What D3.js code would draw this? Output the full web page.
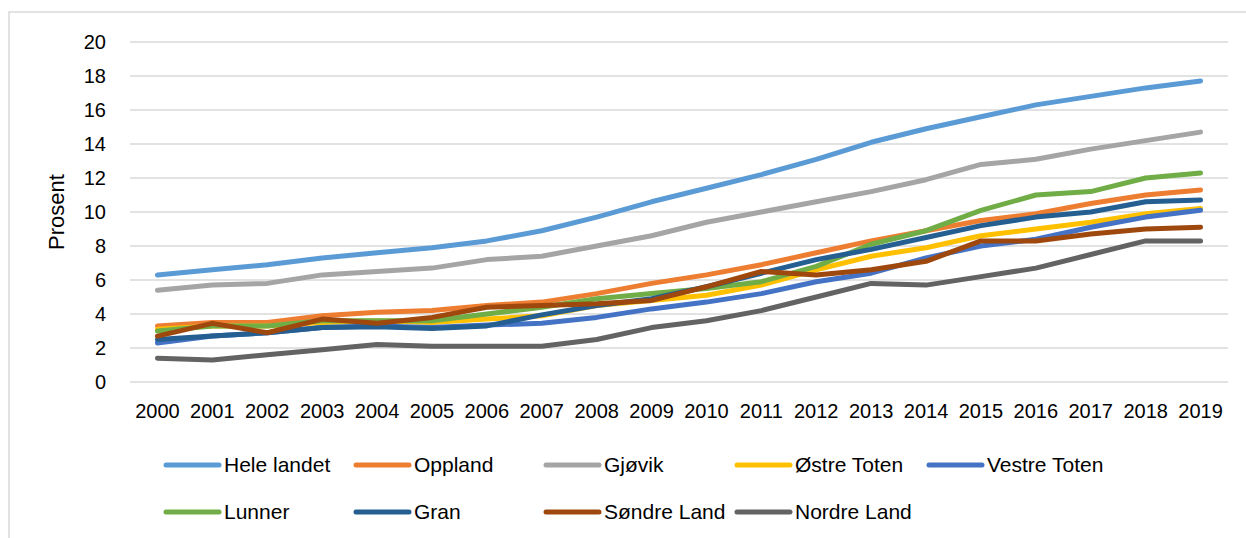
<!DOCTYPE html>
<html>
<head>
<meta charset="utf-8">
<script src="https://d3js.org/d3.v7.min.js"></script>
<style>
    body { margin: 0; background: #fff; }
    text { font-family: "Liberation Sans", Arial, sans-serif; fill: #000; }
</style>
</head>
<body>
<script>
(function(){

    //pseudo-global variables
    var years = ["2000", "2001", "2002", "2003", "2004", "2005", "2006", "2007", "2008", "2009",
                 "2010", "2011", "2012", "2013", "2014", "2015", "2016", "2017", "2018", "2019"];
    var seriesNames = ["Hele landet", "Oppland", "Gjøvik", "Østre Toten", "Vestre Toten",
                       "Lunner", "Gran", "Søndre Land", "Nordre Land"];
    var heleLandet  = [6.3, 6.6, 6.9, 7.3, 7.6, 7.9, 8.3, 8.9, 9.7, 10.6, 11.4, 12.2, 13.1, 14.1, 14.9, 15.6, 16.3, 16.8, 17.3, 17.7];
    var oppland     = [3.3, 3.5, 3.5, 3.9, 4.1, 4.2, 4.5, 4.7, 5.2, 5.8, 6.3, 6.9, 7.6, 8.3, 8.9, 9.5, 9.9, 10.5, 11.0, 11.3];
    var gjovik      = [5.4, 5.7, 5.8, 6.3, 6.5, 6.7, 7.2, 7.4, 8.0, 8.6, 9.4, 10.0, 10.6, 11.2, 11.9, 12.8, 13.1, 13.7, 14.2, 14.7];
    var ostreToten  = [3.1, 3.3, 3.3, 3.5, 3.6, 3.5, 3.7, 3.9, 4.5, 4.8, 5.1, 5.7, 6.6, 7.4, 7.9, 8.6, 9.0, 9.4, 9.9, 10.2];
    var vestreToten = [2.3, 2.7, 2.9, 3.2, 3.3, 3.2, 3.35, 3.45, 3.8, 4.3, 4.7, 5.2, 5.9, 6.4, 7.3, 8.0, 8.4, 9.1, 9.7, 10.1];
    var lunner      = [3.0, 3.3, 3.3, 3.6, 3.6, 3.6, 4.0, 4.4, 4.9, 5.2, 5.5, 5.9, 6.8, 8.1, 8.9, 10.1, 11.0, 11.2, 12.0, 12.3];
    var gran        = [2.5, 2.7, 2.9, 3.2, 3.25, 3.15, 3.3, 3.95, 4.5, 4.9, 5.6, 6.4, 7.2, 7.8, 8.5, 9.2, 9.7, 10.0, 10.6, 10.7];
    var sondreLand  = [2.7, 3.45, 2.9, 3.7, 3.45, 3.8, 4.4, 4.5, 4.6, 4.8, 5.6, 6.5, 6.3, 6.6, 7.1, 8.3, 8.3, 8.7, 9.0, 9.1];
    var nordreLand  = [1.4, 1.3, 1.6, 1.9, 2.2, 2.1, 2.1, 2.1, 2.5, 3.2, 3.6, 4.2, 5.0, 5.8, 5.7, 6.2, 6.7, 7.5, 8.3, 8.3];
    var seriesValues = [heleLandet, oppland, gjovik, ostreToten, vestreToten, lunner, gran, sondreLand, nordreLand];
    var colors = ["#5B9BD5", "#ED7D31", "#A5A5A5", "#FFC000", "#4472C4", "#70AD47", "#255E91", "#9E480E", "#636363"];
    var yTicks = [0, 2, 4, 6, 8, 10, 12, 14, 16, 18, 20];
    var yTitle = "Prosent";

    window.onload = setChart();

    function setChart(){
        //chart frame dimensions
        var width = 1246,
            height = 538,
            plotLeft = 130,
            plotRight = 1228,
            plotTop = 42,
            plotBottom = 382;

        var svg = d3.select("body")
            .append("svg")
            .attr("width", width)
            .attr("height", height);

        //outer chart border
        svg.append("rect")
            .attr("x", 9)
            .attr("y", 12)
            .attr("width", width + 20)
            .attr("height", height + 20)
            .style("fill", "#fff")
            .style("stroke", "#D9D9D9")
            .style("stroke-width", 1.5);

        //scales
        var xScale = d3.scaleBand()
            .domain(years)
            .range([plotLeft, plotRight]);

        var yScale = d3.scaleLinear()
            .domain([0, 20])
            .range([plotBottom, plotTop]);

        //gridlines
        svg.append("g")
            .selectAll("line")
            .data(yTicks)
            .enter()
            .append("line")
            .attr("x1", plotLeft)
            .attr("x2", plotRight)
            .attr("y1", function(d){ return yScale(d); })
            .attr("y2", function(d){ return yScale(d); })
            .style("stroke", "#D9D9D9")
            .style("stroke-width", 1.5);

        //y axis labels
        var yAxis = d3.axisLeft(yScale)
            .tickValues(yTicks)
            .tickSize(0)
            .tickPadding(24);

        var yAxisG = svg.append("g")
            .attr("transform", "translate(" + plotLeft + ",0)")
            .call(yAxis);
        yAxisG.select(".domain").remove();
        yAxisG.selectAll("text")
            .style("font-size", "20px")
            .style("font-family", "Liberation Sans, Arial, sans-serif")
            .attr("fill", "#000");

        //x axis labels
        var xAxis = d3.axisBottom(xScale)
            .tickSize(0)
            .tickPadding(22);

        var xAxisG = svg.append("g")
            .attr("transform", "translate(0," + plotBottom + ")")
            .call(xAxis);
        xAxisG.select(".domain").remove();
        xAxisG.selectAll("text")
            .style("font-size", "20px")
            .style("font-family", "Liberation Sans, Arial, sans-serif")
            .attr("fill", "#000");

        //y axis title
        svg.append("text")
            .attr("transform", "translate(64," + yScale(10) + ") rotate(-90)")
            .attr("text-anchor", "middle")
            .style("font-size", "22px")
            .text(yTitle);

        //lines
        var line = d3.line()
            .x(function(d, i){ return xScale(years[i]) + xScale.bandwidth() / 2; })
            .y(function(d){ return yScale(d); });

        svg.append("g")
            .selectAll("path")
            .data(seriesValues)
            .enter()
            .append("path")
            .attr("d", line)
            .style("fill", "none")
            .style("stroke", function(d, i){ return colors[i]; })
            .style("stroke-width", 5)
            .style("stroke-linecap", "round")
            .style("stroke-linejoin", "round");

        //legend
        var legendCols = [164, 354, 544, 735, 927],
            legendRows = [465, 512];

        var legend = svg.append("g")
            .selectAll("g")
            .data(seriesNames)
            .enter()
            .append("g")
            .attr("transform", function(d, i){
                var col = i < 5 ? i : i - 5,
                    row = i < 5 ? 0 : 1;
                return "translate(" + legendCols[col] + "," + legendRows[row] + ")";
            });

        legend.append("line")
            .attr("x1", 2)
            .attr("x2", 55)
            .style("stroke", function(d, i){ return colors[i]; })
            .style("stroke-width", 5)
            .style("stroke-linecap", "round");

        legend.append("text")
            .attr("x", 60)
            .attr("dy", "0.35em")
            .style("font-size", "21px")
            .text(function(d){ return d; });
    };

})();
</script>
</body>
</html>
